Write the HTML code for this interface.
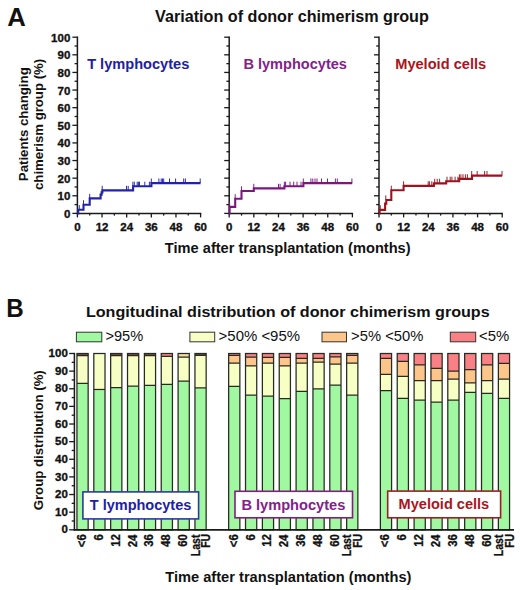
<!DOCTYPE html>
<html><head><meta charset="utf-8"><style>
html,body{margin:0;padding:0;background:#fff;width:520px;height:590px;overflow:hidden}
svg{display:block;position:absolute;left:0;top:0}
text{font-family:"Liberation Sans", sans-serif;font-weight:bold;fill:#111}
.tk{font-size:11.5px;stroke:#111;stroke-width:0.35px}
</style></head><body>
<svg width="520" height="590" viewBox="0 0 520 590">
<line x1="77.4" y1="36.50" x2="77.4" y2="214.20" stroke="#1a1a1a" stroke-width="1.5"/>
<line x1="76.7" y1="213.4" x2="201.30" y2="213.4" stroke="#1a1a1a" stroke-width="1.5"/>
<line x1="72.40" y1="213.40" x2="77.4" y2="213.40" stroke="#1a1a1a" stroke-width="1.3"/>
<line x1="74.60" y1="204.59" x2="77.4" y2="204.59" stroke="#1a1a1a" stroke-width="1.3"/>
<line x1="72.40" y1="195.78" x2="77.4" y2="195.78" stroke="#1a1a1a" stroke-width="1.3"/>
<line x1="74.60" y1="186.97" x2="77.4" y2="186.97" stroke="#1a1a1a" stroke-width="1.3"/>
<line x1="72.40" y1="178.16" x2="77.4" y2="178.16" stroke="#1a1a1a" stroke-width="1.3"/>
<line x1="74.60" y1="169.35" x2="77.4" y2="169.35" stroke="#1a1a1a" stroke-width="1.3"/>
<line x1="72.40" y1="160.54" x2="77.4" y2="160.54" stroke="#1a1a1a" stroke-width="1.3"/>
<line x1="74.60" y1="151.73" x2="77.4" y2="151.73" stroke="#1a1a1a" stroke-width="1.3"/>
<line x1="72.40" y1="142.92" x2="77.4" y2="142.92" stroke="#1a1a1a" stroke-width="1.3"/>
<line x1="74.60" y1="134.11" x2="77.4" y2="134.11" stroke="#1a1a1a" stroke-width="1.3"/>
<line x1="72.40" y1="125.30" x2="77.4" y2="125.30" stroke="#1a1a1a" stroke-width="1.3"/>
<line x1="74.60" y1="116.49" x2="77.4" y2="116.49" stroke="#1a1a1a" stroke-width="1.3"/>
<line x1="72.40" y1="107.68" x2="77.4" y2="107.68" stroke="#1a1a1a" stroke-width="1.3"/>
<line x1="74.60" y1="98.87" x2="77.4" y2="98.87" stroke="#1a1a1a" stroke-width="1.3"/>
<line x1="72.40" y1="90.06" x2="77.4" y2="90.06" stroke="#1a1a1a" stroke-width="1.3"/>
<line x1="74.60" y1="81.25" x2="77.4" y2="81.25" stroke="#1a1a1a" stroke-width="1.3"/>
<line x1="72.40" y1="72.44" x2="77.4" y2="72.44" stroke="#1a1a1a" stroke-width="1.3"/>
<line x1="74.60" y1="63.63" x2="77.4" y2="63.63" stroke="#1a1a1a" stroke-width="1.3"/>
<line x1="72.40" y1="54.82" x2="77.4" y2="54.82" stroke="#1a1a1a" stroke-width="1.3"/>
<line x1="74.60" y1="46.01" x2="77.4" y2="46.01" stroke="#1a1a1a" stroke-width="1.3"/>
<line x1="72.40" y1="37.20" x2="77.4" y2="37.20" stroke="#1a1a1a" stroke-width="1.3"/>
<line x1="77.40" y1="213.4" x2="77.40" y2="217.40" stroke="#1a1a1a" stroke-width="1.3"/>
<line x1="89.72" y1="213.4" x2="89.72" y2="215.60" stroke="#1a1a1a" stroke-width="1.3"/>
<line x1="102.04" y1="213.4" x2="102.04" y2="217.40" stroke="#1a1a1a" stroke-width="1.3"/>
<line x1="114.36" y1="213.4" x2="114.36" y2="215.60" stroke="#1a1a1a" stroke-width="1.3"/>
<line x1="126.68" y1="213.4" x2="126.68" y2="217.40" stroke="#1a1a1a" stroke-width="1.3"/>
<line x1="139.00" y1="213.4" x2="139.00" y2="215.60" stroke="#1a1a1a" stroke-width="1.3"/>
<line x1="151.32" y1="213.4" x2="151.32" y2="217.40" stroke="#1a1a1a" stroke-width="1.3"/>
<line x1="163.64" y1="213.4" x2="163.64" y2="215.60" stroke="#1a1a1a" stroke-width="1.3"/>
<line x1="175.96" y1="213.4" x2="175.96" y2="217.40" stroke="#1a1a1a" stroke-width="1.3"/>
<line x1="188.28" y1="213.4" x2="188.28" y2="215.60" stroke="#1a1a1a" stroke-width="1.3"/>
<line x1="200.60" y1="213.4" x2="200.60" y2="217.40" stroke="#1a1a1a" stroke-width="1.3"/>
<text x="77.40" y="230.7" text-anchor="middle" class="tk">0</text>
<text x="102.04" y="230.7" text-anchor="middle" class="tk">12</text>
<text x="126.68" y="230.7" text-anchor="middle" class="tk">24</text>
<text x="151.32" y="230.7" text-anchor="middle" class="tk">36</text>
<text x="175.96" y="230.7" text-anchor="middle" class="tk">48</text>
<text x="200.60" y="230.7" text-anchor="middle" class="tk">60</text>
<line x1="229.2" y1="36.50" x2="229.2" y2="214.20" stroke="#1a1a1a" stroke-width="1.5"/>
<line x1="228.5" y1="213.4" x2="353.10" y2="213.4" stroke="#1a1a1a" stroke-width="1.5"/>
<line x1="224.20" y1="213.40" x2="229.2" y2="213.40" stroke="#1a1a1a" stroke-width="1.3"/>
<line x1="226.40" y1="204.59" x2="229.2" y2="204.59" stroke="#1a1a1a" stroke-width="1.3"/>
<line x1="224.20" y1="195.78" x2="229.2" y2="195.78" stroke="#1a1a1a" stroke-width="1.3"/>
<line x1="226.40" y1="186.97" x2="229.2" y2="186.97" stroke="#1a1a1a" stroke-width="1.3"/>
<line x1="224.20" y1="178.16" x2="229.2" y2="178.16" stroke="#1a1a1a" stroke-width="1.3"/>
<line x1="226.40" y1="169.35" x2="229.2" y2="169.35" stroke="#1a1a1a" stroke-width="1.3"/>
<line x1="224.20" y1="160.54" x2="229.2" y2="160.54" stroke="#1a1a1a" stroke-width="1.3"/>
<line x1="226.40" y1="151.73" x2="229.2" y2="151.73" stroke="#1a1a1a" stroke-width="1.3"/>
<line x1="224.20" y1="142.92" x2="229.2" y2="142.92" stroke="#1a1a1a" stroke-width="1.3"/>
<line x1="226.40" y1="134.11" x2="229.2" y2="134.11" stroke="#1a1a1a" stroke-width="1.3"/>
<line x1="224.20" y1="125.30" x2="229.2" y2="125.30" stroke="#1a1a1a" stroke-width="1.3"/>
<line x1="226.40" y1="116.49" x2="229.2" y2="116.49" stroke="#1a1a1a" stroke-width="1.3"/>
<line x1="224.20" y1="107.68" x2="229.2" y2="107.68" stroke="#1a1a1a" stroke-width="1.3"/>
<line x1="226.40" y1="98.87" x2="229.2" y2="98.87" stroke="#1a1a1a" stroke-width="1.3"/>
<line x1="224.20" y1="90.06" x2="229.2" y2="90.06" stroke="#1a1a1a" stroke-width="1.3"/>
<line x1="226.40" y1="81.25" x2="229.2" y2="81.25" stroke="#1a1a1a" stroke-width="1.3"/>
<line x1="224.20" y1="72.44" x2="229.2" y2="72.44" stroke="#1a1a1a" stroke-width="1.3"/>
<line x1="226.40" y1="63.63" x2="229.2" y2="63.63" stroke="#1a1a1a" stroke-width="1.3"/>
<line x1="224.20" y1="54.82" x2="229.2" y2="54.82" stroke="#1a1a1a" stroke-width="1.3"/>
<line x1="226.40" y1="46.01" x2="229.2" y2="46.01" stroke="#1a1a1a" stroke-width="1.3"/>
<line x1="224.20" y1="37.20" x2="229.2" y2="37.20" stroke="#1a1a1a" stroke-width="1.3"/>
<line x1="229.20" y1="213.4" x2="229.20" y2="217.40" stroke="#1a1a1a" stroke-width="1.3"/>
<line x1="241.52" y1="213.4" x2="241.52" y2="215.60" stroke="#1a1a1a" stroke-width="1.3"/>
<line x1="253.84" y1="213.4" x2="253.84" y2="217.40" stroke="#1a1a1a" stroke-width="1.3"/>
<line x1="266.16" y1="213.4" x2="266.16" y2="215.60" stroke="#1a1a1a" stroke-width="1.3"/>
<line x1="278.48" y1="213.4" x2="278.48" y2="217.40" stroke="#1a1a1a" stroke-width="1.3"/>
<line x1="290.80" y1="213.4" x2="290.80" y2="215.60" stroke="#1a1a1a" stroke-width="1.3"/>
<line x1="303.12" y1="213.4" x2="303.12" y2="217.40" stroke="#1a1a1a" stroke-width="1.3"/>
<line x1="315.44" y1="213.4" x2="315.44" y2="215.60" stroke="#1a1a1a" stroke-width="1.3"/>
<line x1="327.76" y1="213.4" x2="327.76" y2="217.40" stroke="#1a1a1a" stroke-width="1.3"/>
<line x1="340.08" y1="213.4" x2="340.08" y2="215.60" stroke="#1a1a1a" stroke-width="1.3"/>
<line x1="352.40" y1="213.4" x2="352.40" y2="217.40" stroke="#1a1a1a" stroke-width="1.3"/>
<text x="229.20" y="230.7" text-anchor="middle" class="tk">0</text>
<text x="253.84" y="230.7" text-anchor="middle" class="tk">12</text>
<text x="278.48" y="230.7" text-anchor="middle" class="tk">24</text>
<text x="303.12" y="230.7" text-anchor="middle" class="tk">36</text>
<text x="327.76" y="230.7" text-anchor="middle" class="tk">48</text>
<text x="352.40" y="230.7" text-anchor="middle" class="tk">60</text>
<line x1="379.0" y1="36.50" x2="379.0" y2="214.20" stroke="#1a1a1a" stroke-width="1.5"/>
<line x1="378.3" y1="213.4" x2="502.90" y2="213.4" stroke="#1a1a1a" stroke-width="1.5"/>
<line x1="374.00" y1="213.40" x2="379.0" y2="213.40" stroke="#1a1a1a" stroke-width="1.3"/>
<line x1="376.20" y1="204.59" x2="379.0" y2="204.59" stroke="#1a1a1a" stroke-width="1.3"/>
<line x1="374.00" y1="195.78" x2="379.0" y2="195.78" stroke="#1a1a1a" stroke-width="1.3"/>
<line x1="376.20" y1="186.97" x2="379.0" y2="186.97" stroke="#1a1a1a" stroke-width="1.3"/>
<line x1="374.00" y1="178.16" x2="379.0" y2="178.16" stroke="#1a1a1a" stroke-width="1.3"/>
<line x1="376.20" y1="169.35" x2="379.0" y2="169.35" stroke="#1a1a1a" stroke-width="1.3"/>
<line x1="374.00" y1="160.54" x2="379.0" y2="160.54" stroke="#1a1a1a" stroke-width="1.3"/>
<line x1="376.20" y1="151.73" x2="379.0" y2="151.73" stroke="#1a1a1a" stroke-width="1.3"/>
<line x1="374.00" y1="142.92" x2="379.0" y2="142.92" stroke="#1a1a1a" stroke-width="1.3"/>
<line x1="376.20" y1="134.11" x2="379.0" y2="134.11" stroke="#1a1a1a" stroke-width="1.3"/>
<line x1="374.00" y1="125.30" x2="379.0" y2="125.30" stroke="#1a1a1a" stroke-width="1.3"/>
<line x1="376.20" y1="116.49" x2="379.0" y2="116.49" stroke="#1a1a1a" stroke-width="1.3"/>
<line x1="374.00" y1="107.68" x2="379.0" y2="107.68" stroke="#1a1a1a" stroke-width="1.3"/>
<line x1="376.20" y1="98.87" x2="379.0" y2="98.87" stroke="#1a1a1a" stroke-width="1.3"/>
<line x1="374.00" y1="90.06" x2="379.0" y2="90.06" stroke="#1a1a1a" stroke-width="1.3"/>
<line x1="376.20" y1="81.25" x2="379.0" y2="81.25" stroke="#1a1a1a" stroke-width="1.3"/>
<line x1="374.00" y1="72.44" x2="379.0" y2="72.44" stroke="#1a1a1a" stroke-width="1.3"/>
<line x1="376.20" y1="63.63" x2="379.0" y2="63.63" stroke="#1a1a1a" stroke-width="1.3"/>
<line x1="374.00" y1="54.82" x2="379.0" y2="54.82" stroke="#1a1a1a" stroke-width="1.3"/>
<line x1="376.20" y1="46.01" x2="379.0" y2="46.01" stroke="#1a1a1a" stroke-width="1.3"/>
<line x1="374.00" y1="37.20" x2="379.0" y2="37.20" stroke="#1a1a1a" stroke-width="1.3"/>
<line x1="379.00" y1="213.4" x2="379.00" y2="217.40" stroke="#1a1a1a" stroke-width="1.3"/>
<line x1="391.32" y1="213.4" x2="391.32" y2="215.60" stroke="#1a1a1a" stroke-width="1.3"/>
<line x1="403.64" y1="213.4" x2="403.64" y2="217.40" stroke="#1a1a1a" stroke-width="1.3"/>
<line x1="415.96" y1="213.4" x2="415.96" y2="215.60" stroke="#1a1a1a" stroke-width="1.3"/>
<line x1="428.28" y1="213.4" x2="428.28" y2="217.40" stroke="#1a1a1a" stroke-width="1.3"/>
<line x1="440.60" y1="213.4" x2="440.60" y2="215.60" stroke="#1a1a1a" stroke-width="1.3"/>
<line x1="452.92" y1="213.4" x2="452.92" y2="217.40" stroke="#1a1a1a" stroke-width="1.3"/>
<line x1="465.24" y1="213.4" x2="465.24" y2="215.60" stroke="#1a1a1a" stroke-width="1.3"/>
<line x1="477.56" y1="213.4" x2="477.56" y2="217.40" stroke="#1a1a1a" stroke-width="1.3"/>
<line x1="489.88" y1="213.4" x2="489.88" y2="215.60" stroke="#1a1a1a" stroke-width="1.3"/>
<line x1="502.20" y1="213.4" x2="502.20" y2="217.40" stroke="#1a1a1a" stroke-width="1.3"/>
<text x="379.00" y="230.7" text-anchor="middle" class="tk">0</text>
<text x="403.64" y="230.7" text-anchor="middle" class="tk">12</text>
<text x="428.28" y="230.7" text-anchor="middle" class="tk">24</text>
<text x="452.92" y="230.7" text-anchor="middle" class="tk">36</text>
<text x="477.56" y="230.7" text-anchor="middle" class="tk">48</text>
<text x="502.20" y="230.7" text-anchor="middle" class="tk">60</text>
<text x="70.3" y="217.90" text-anchor="end" class="tk">0</text>
<text x="70.3" y="200.28" text-anchor="end" class="tk">10</text>
<text x="70.3" y="182.66" text-anchor="end" class="tk">20</text>
<text x="70.3" y="165.04" text-anchor="end" class="tk">30</text>
<text x="70.3" y="147.42" text-anchor="end" class="tk">40</text>
<text x="70.3" y="129.80" text-anchor="end" class="tk">50</text>
<text x="70.3" y="112.18" text-anchor="end" class="tk">60</text>
<text x="70.3" y="94.56" text-anchor="end" class="tk">70</text>
<text x="70.3" y="76.94" text-anchor="end" class="tk">80</text>
<text x="70.3" y="59.32" text-anchor="end" class="tk">90</text>
<text x="70.3" y="41.70" text-anchor="end" class="tk">100</text>
<path d="M77.40,213.40 L78.20,213.40 L78.20,209.70 L83.50,209.70 L83.50,204.80 L89.70,204.80 L89.70,198.40 L100.60,198.40 L100.60,194.60 L101.60,194.60 L101.60,192.40 L102.40,192.40 L102.40,190.40 L133.10,190.40 L133.10,186.30 L151.40,186.30 L151.40,183.10 L200.50,183.10" fill="none" stroke="#2323a8" stroke-width="2.1"/>
<path d="M79.30,209.70v-4.6M83.50,204.80v-4.6M89.70,198.40v-4.6M102.20,190.40v-4.6M126.50,190.40v-4.6M128.20,190.40v-4.6M132.90,186.30v-4.6M134.30,186.30v-4.6M137.20,186.30v-4.6M138.40,186.30v-4.6M139.50,186.30v-4.6M144.80,186.30v-4.6M149.40,186.30v-4.6M151.30,183.10v-4.6M158.90,183.10v-4.6M161.20,183.10v-4.6M162.50,183.10v-4.6M163.70,183.10v-4.6M169.50,183.10v-4.6M175.60,183.10v-4.6M183.70,183.10v-4.6M185.40,183.10v-4.6M200.20,183.10v-4.6" fill="none" stroke="#2323a8" stroke-width="0.95"/>
<path d="M229.20,213.40 L229.60,213.40 L229.60,206.90 L235.20,206.90 L235.20,198.80 L241.50,198.80 L241.50,191.00 L253.80,191.00 L253.80,188.40 L284.40,188.40 L284.40,186.30 L303.40,186.30 L303.40,183.10 L352.20,183.10" fill="none" stroke="#7a1880" stroke-width="2.1"/>
<path d="M229.60,206.90v-4.6M235.20,198.80v-4.6M241.50,191.00v-4.6M253.80,188.40v-4.6M278.50,188.40v-4.6M280.10,188.40v-4.6M284.40,186.30v-4.6M285.60,186.30v-4.6M290.00,186.30v-4.6M293.70,186.30v-4.6M297.00,186.30v-4.6M301.00,186.30v-4.6M303.30,183.10v-4.6M310.90,183.10v-4.6M312.80,183.10v-4.6M315.00,183.10v-4.6M317.00,183.10v-4.6M321.50,183.10v-4.6M327.50,183.10v-4.6M335.40,183.10v-4.6M337.30,183.10v-4.6M351.90,183.10v-4.6" fill="none" stroke="#7a1880" stroke-width="0.95"/>
<path d="M379.00,213.40 L379.60,213.40 L379.60,209.90 L385.10,209.90 L385.10,203.60 L386.30,203.60 L386.30,200.00 L391.30,200.00 L391.30,190.30 L403.60,190.30 L403.60,185.90 L433.90,185.90 L433.90,183.40 L446.20,183.40 L446.20,181.30 L459.20,181.30 L459.20,178.90 L472.00,178.90 L472.00,175.60 L502.20,175.60" fill="none" stroke="#9a1420" stroke-width="2.1"/>
<path d="M380.30,209.90v-4.6M385.80,200.00v-4.6M391.30,190.30v-4.6M403.60,185.90v-4.6M428.20,185.90v-4.6M429.40,185.90v-4.6M431.80,185.90v-4.6M434.70,183.40v-4.6M437.20,183.40v-4.6M439.60,183.40v-4.6M447.00,181.30v-4.6M450.20,181.30v-4.6M451.90,181.30v-4.6M455.10,181.30v-4.6M457.90,181.30v-4.6M459.40,178.90v-4.6M460.90,178.90v-4.6M463.00,178.90v-4.6M465.40,178.90v-4.6M467.40,178.90v-4.6M471.70,175.60v-4.6M477.20,175.60v-4.6M484.60,175.60v-4.6M487.00,175.60v-4.6M502.00,175.60v-4.6" fill="none" stroke="#9a1420" stroke-width="0.95"/>
<rect x="76.4" y="332.2" width="25.40" height="9.6" fill="#a0f8a0" stroke="#333" stroke-width="1"/>
<rect x="189.9" y="332.2" width="24.80" height="9.6" fill="#f8ffc4" stroke="#333" stroke-width="1"/>
<rect x="322.0" y="332.2" width="24.50" height="9.6" fill="#fcc68a" stroke="#333" stroke-width="1"/>
<rect x="450.3" y="332.2" width="25.40" height="9.6" fill="#f98084" stroke="#333" stroke-width="1"/>
<rect x="76.95" y="383.29" width="11.20" height="146.51" fill="#a0f8a0"/>
<rect x="76.95" y="355.70" width="11.20" height="27.59" fill="#f8ffc4"/>
<rect x="76.95" y="353.50" width="11.20" height="2.20" fill="#7a4a38"/>
<path d="M76.95,383.29h11.20M76.95,355.70h11.20" stroke="#262a20" stroke-width="1.25"/>
<rect x="76.95" y="353.50" width="11.20" height="176.30" fill="none" stroke="#262a20" stroke-width="1.25"/>
<rect x="93.81" y="389.47" width="11.20" height="140.33" fill="#a0f8a0"/>
<rect x="93.81" y="353.50" width="11.20" height="35.97" fill="#f8ffc4"/>
<path d="M93.81,389.47h11.20" stroke="#262a20" stroke-width="1.25"/>
<rect x="93.81" y="353.50" width="11.20" height="176.30" fill="none" stroke="#262a20" stroke-width="1.25"/>
<rect x="110.66" y="387.70" width="11.20" height="142.10" fill="#a0f8a0"/>
<rect x="110.66" y="355.70" width="11.20" height="32.00" fill="#f8ffc4"/>
<rect x="110.66" y="353.50" width="11.20" height="2.20" fill="#7a4a38"/>
<path d="M110.66,387.70h11.20M110.66,355.70h11.20" stroke="#262a20" stroke-width="1.25"/>
<rect x="110.66" y="353.50" width="11.20" height="176.30" fill="none" stroke="#262a20" stroke-width="1.25"/>
<rect x="127.52" y="386.12" width="11.20" height="143.68" fill="#a0f8a0"/>
<rect x="127.52" y="355.70" width="11.20" height="30.41" fill="#f8ffc4"/>
<rect x="127.52" y="353.50" width="11.20" height="2.20" fill="#7a4a38"/>
<path d="M127.52,386.12h11.20M127.52,355.70h11.20" stroke="#262a20" stroke-width="1.25"/>
<rect x="127.52" y="353.50" width="11.20" height="176.30" fill="none" stroke="#262a20" stroke-width="1.25"/>
<rect x="144.38" y="385.41" width="11.20" height="144.39" fill="#a0f8a0"/>
<rect x="144.38" y="355.70" width="11.20" height="29.71" fill="#f8ffc4"/>
<rect x="144.38" y="353.50" width="11.20" height="2.20" fill="#7a4a38"/>
<path d="M144.38,385.41h11.20M144.38,355.70h11.20" stroke="#262a20" stroke-width="1.25"/>
<rect x="144.38" y="353.50" width="11.20" height="176.30" fill="none" stroke="#262a20" stroke-width="1.25"/>
<rect x="161.24" y="384.35" width="11.20" height="145.45" fill="#a0f8a0"/>
<rect x="161.24" y="356.32" width="11.20" height="28.03" fill="#f8ffc4"/>
<rect x="161.24" y="353.50" width="11.20" height="2.82" fill="#f98084"/>
<path d="M161.24,384.35h11.20M161.24,356.32h11.20" stroke="#262a20" stroke-width="1.25"/>
<rect x="161.24" y="353.50" width="11.20" height="176.30" fill="none" stroke="#262a20" stroke-width="1.25"/>
<rect x="178.09" y="381.00" width="11.20" height="148.80" fill="#a0f8a0"/>
<rect x="178.09" y="357.03" width="11.20" height="23.98" fill="#f8ffc4"/>
<rect x="178.09" y="353.50" width="11.20" height="3.53" fill="#f6dca0"/>
<path d="M178.09,381.00h11.20M178.09,357.03h11.20" stroke="#262a20" stroke-width="1.25"/>
<rect x="178.09" y="353.50" width="11.20" height="176.30" fill="none" stroke="#262a20" stroke-width="1.25"/>
<rect x="194.95" y="387.88" width="11.20" height="141.92" fill="#a0f8a0"/>
<rect x="194.95" y="355.44" width="11.20" height="32.44" fill="#f8ffc4"/>
<rect x="194.95" y="353.50" width="11.20" height="1.94" fill="#7a4a38"/>
<path d="M194.95,387.88h11.20M194.95,355.44h11.20" stroke="#262a20" stroke-width="1.25"/>
<rect x="194.95" y="353.50" width="11.20" height="176.30" fill="none" stroke="#262a20" stroke-width="1.25"/>
<rect x="228.66" y="386.29" width="11.20" height="143.51" fill="#a0f8a0"/>
<rect x="228.66" y="363.20" width="11.20" height="23.10" fill="#f8ffc4"/>
<rect x="228.66" y="355.44" width="11.20" height="7.76" fill="#fcc68a"/>
<rect x="228.66" y="353.50" width="11.20" height="1.94" fill="#f98084"/>
<path d="M228.66,386.29h11.20M228.66,363.20h11.20M228.66,355.44h11.20" stroke="#262a20" stroke-width="1.25"/>
<rect x="228.66" y="353.50" width="11.20" height="176.30" fill="none" stroke="#262a20" stroke-width="1.25"/>
<rect x="245.52" y="395.11" width="11.20" height="134.69" fill="#a0f8a0"/>
<rect x="245.52" y="365.84" width="11.20" height="29.27" fill="#f8ffc4"/>
<rect x="245.52" y="357.03" width="11.20" height="8.81" fill="#fcc68a"/>
<rect x="245.52" y="353.50" width="11.20" height="3.53" fill="#f98084"/>
<path d="M245.52,395.11h11.20M245.52,365.84h11.20M245.52,357.03h11.20" stroke="#262a20" stroke-width="1.25"/>
<rect x="245.52" y="353.50" width="11.20" height="176.30" fill="none" stroke="#262a20" stroke-width="1.25"/>
<rect x="262.38" y="396.16" width="11.20" height="133.64" fill="#a0f8a0"/>
<rect x="262.38" y="363.20" width="11.20" height="32.97" fill="#f8ffc4"/>
<rect x="262.38" y="357.38" width="11.20" height="5.82" fill="#fcc68a"/>
<rect x="262.38" y="353.50" width="11.20" height="3.88" fill="#f98084"/>
<path d="M262.38,396.16h11.20M262.38,363.20h11.20M262.38,357.38h11.20" stroke="#262a20" stroke-width="1.25"/>
<rect x="262.38" y="353.50" width="11.20" height="176.30" fill="none" stroke="#262a20" stroke-width="1.25"/>
<rect x="279.23" y="398.63" width="11.20" height="131.17" fill="#a0f8a0"/>
<rect x="279.23" y="365.84" width="11.20" height="32.79" fill="#f8ffc4"/>
<rect x="279.23" y="357.38" width="11.20" height="8.46" fill="#fcc68a"/>
<rect x="279.23" y="353.50" width="11.20" height="3.88" fill="#f98084"/>
<path d="M279.23,398.63h11.20M279.23,365.84h11.20M279.23,357.38h11.20" stroke="#262a20" stroke-width="1.25"/>
<rect x="279.23" y="353.50" width="11.20" height="176.30" fill="none" stroke="#262a20" stroke-width="1.25"/>
<rect x="296.09" y="391.40" width="11.20" height="138.40" fill="#a0f8a0"/>
<rect x="296.09" y="363.20" width="11.20" height="28.21" fill="#f8ffc4"/>
<rect x="296.09" y="358.44" width="11.20" height="4.76" fill="#fcc68a"/>
<rect x="296.09" y="353.50" width="11.20" height="4.94" fill="#f98084"/>
<path d="M296.09,391.40h11.20M296.09,363.20h11.20M296.09,358.44h11.20" stroke="#262a20" stroke-width="1.25"/>
<rect x="296.09" y="353.50" width="11.20" height="176.30" fill="none" stroke="#262a20" stroke-width="1.25"/>
<rect x="312.95" y="388.76" width="11.20" height="141.04" fill="#a0f8a0"/>
<rect x="312.95" y="362.14" width="11.20" height="26.62" fill="#f8ffc4"/>
<rect x="312.95" y="358.44" width="11.20" height="3.70" fill="#fcc68a"/>
<rect x="312.95" y="353.50" width="11.20" height="4.94" fill="#f98084"/>
<path d="M312.95,388.76h11.20M312.95,362.14h11.20M312.95,358.44h11.20" stroke="#262a20" stroke-width="1.25"/>
<rect x="312.95" y="353.50" width="11.20" height="176.30" fill="none" stroke="#262a20" stroke-width="1.25"/>
<rect x="329.81" y="385.06" width="11.20" height="144.74" fill="#a0f8a0"/>
<rect x="329.81" y="364.08" width="11.20" height="20.98" fill="#f8ffc4"/>
<rect x="329.81" y="356.85" width="11.20" height="7.23" fill="#fcc68a"/>
<rect x="329.81" y="353.50" width="11.20" height="3.35" fill="#f98084"/>
<path d="M329.81,385.06h11.20M329.81,364.08h11.20M329.81,356.85h11.20" stroke="#262a20" stroke-width="1.25"/>
<rect x="329.81" y="353.50" width="11.20" height="176.30" fill="none" stroke="#262a20" stroke-width="1.25"/>
<rect x="346.66" y="395.11" width="11.20" height="134.69" fill="#a0f8a0"/>
<rect x="346.66" y="363.20" width="11.20" height="31.91" fill="#f8ffc4"/>
<rect x="346.66" y="355.44" width="11.20" height="7.76" fill="#fcc68a"/>
<rect x="346.66" y="353.50" width="11.20" height="1.94" fill="#f98084"/>
<path d="M346.66,395.11h11.20M346.66,363.20h11.20M346.66,355.44h11.20" stroke="#262a20" stroke-width="1.25"/>
<rect x="346.66" y="353.50" width="11.20" height="176.30" fill="none" stroke="#262a20" stroke-width="1.25"/>
<rect x="380.38" y="390.52" width="11.20" height="139.28" fill="#a0f8a0"/>
<rect x="380.38" y="374.30" width="11.20" height="16.22" fill="#f8ffc4"/>
<rect x="380.38" y="358.44" width="11.20" height="15.87" fill="#fcc68a"/>
<rect x="380.38" y="353.50" width="11.20" height="4.94" fill="#f98084"/>
<path d="M380.38,390.52h11.20M380.38,374.30h11.20M380.38,358.44h11.20" stroke="#262a20" stroke-width="1.25"/>
<rect x="380.38" y="353.50" width="11.20" height="176.30" fill="none" stroke="#262a20" stroke-width="1.25"/>
<rect x="397.23" y="398.46" width="11.20" height="131.34" fill="#a0f8a0"/>
<rect x="397.23" y="376.42" width="11.20" height="22.04" fill="#f8ffc4"/>
<rect x="397.23" y="361.43" width="11.20" height="14.99" fill="#fcc68a"/>
<rect x="397.23" y="353.50" width="11.20" height="7.93" fill="#f98084"/>
<path d="M397.23,398.46h11.20M397.23,376.42h11.20M397.23,361.43h11.20" stroke="#262a20" stroke-width="1.25"/>
<rect x="397.23" y="353.50" width="11.20" height="176.30" fill="none" stroke="#262a20" stroke-width="1.25"/>
<rect x="414.09" y="400.22" width="11.20" height="129.58" fill="#a0f8a0"/>
<rect x="414.09" y="380.65" width="11.20" height="19.57" fill="#f8ffc4"/>
<rect x="414.09" y="364.96" width="11.20" height="15.69" fill="#fcc68a"/>
<rect x="414.09" y="353.50" width="11.20" height="11.46" fill="#f98084"/>
<path d="M414.09,400.22h11.20M414.09,380.65h11.20M414.09,364.96h11.20" stroke="#262a20" stroke-width="1.25"/>
<rect x="414.09" y="353.50" width="11.20" height="176.30" fill="none" stroke="#262a20" stroke-width="1.25"/>
<rect x="430.95" y="402.16" width="11.20" height="127.64" fill="#a0f8a0"/>
<rect x="430.95" y="380.65" width="11.20" height="21.51" fill="#f8ffc4"/>
<rect x="430.95" y="368.31" width="11.20" height="12.34" fill="#fcc68a"/>
<rect x="430.95" y="353.50" width="11.20" height="14.81" fill="#f98084"/>
<path d="M430.95,402.16h11.20M430.95,380.65h11.20M430.95,368.31h11.20" stroke="#262a20" stroke-width="1.25"/>
<rect x="430.95" y="353.50" width="11.20" height="176.30" fill="none" stroke="#262a20" stroke-width="1.25"/>
<rect x="447.80" y="400.22" width="11.20" height="129.58" fill="#a0f8a0"/>
<rect x="447.80" y="379.24" width="11.20" height="20.98" fill="#f8ffc4"/>
<rect x="447.80" y="371.13" width="11.20" height="8.11" fill="#fcc68a"/>
<rect x="447.80" y="353.50" width="11.20" height="17.63" fill="#f98084"/>
<path d="M447.80,400.22h11.20M447.80,379.24h11.20M447.80,371.13h11.20" stroke="#262a20" stroke-width="1.25"/>
<rect x="447.80" y="353.50" width="11.20" height="176.30" fill="none" stroke="#262a20" stroke-width="1.25"/>
<rect x="464.66" y="392.46" width="11.20" height="137.34" fill="#a0f8a0"/>
<rect x="464.66" y="382.77" width="11.20" height="9.70" fill="#f8ffc4"/>
<rect x="464.66" y="369.54" width="11.20" height="13.22" fill="#fcc68a"/>
<rect x="464.66" y="353.50" width="11.20" height="16.04" fill="#f98084"/>
<path d="M464.66,392.46h11.20M464.66,382.77h11.20M464.66,369.54h11.20" stroke="#262a20" stroke-width="1.25"/>
<rect x="464.66" y="353.50" width="11.20" height="176.30" fill="none" stroke="#262a20" stroke-width="1.25"/>
<rect x="481.52" y="393.34" width="11.20" height="136.46" fill="#a0f8a0"/>
<rect x="481.52" y="380.65" width="11.20" height="12.69" fill="#f8ffc4"/>
<rect x="481.52" y="364.96" width="11.20" height="15.69" fill="#fcc68a"/>
<rect x="481.52" y="353.50" width="11.20" height="11.46" fill="#f98084"/>
<path d="M481.52,393.34h11.20M481.52,380.65h11.20M481.52,364.96h11.20" stroke="#262a20" stroke-width="1.25"/>
<rect x="481.52" y="353.50" width="11.20" height="176.30" fill="none" stroke="#262a20" stroke-width="1.25"/>
<rect x="498.37" y="398.46" width="11.20" height="131.34" fill="#a0f8a0"/>
<rect x="498.37" y="379.06" width="11.20" height="19.39" fill="#f8ffc4"/>
<rect x="498.37" y="363.37" width="11.20" height="15.69" fill="#fcc68a"/>
<rect x="498.37" y="353.50" width="11.20" height="9.87" fill="#f98084"/>
<path d="M498.37,398.46h11.20M498.37,379.06h11.20M498.37,363.37h11.20" stroke="#262a20" stroke-width="1.25"/>
<rect x="498.37" y="353.50" width="11.20" height="176.30" fill="none" stroke="#262a20" stroke-width="1.25"/>
<line x1="74.4" y1="352.80" x2="74.4" y2="530.60" stroke="#1a1a1a" stroke-width="1.5"/>
<line x1="73.7" y1="529.8" x2="514" y2="529.8" stroke="#1a1a1a" stroke-width="1.8"/>
<line x1="69.20" y1="529.80" x2="74.4" y2="529.80" stroke="#1a1a1a" stroke-width="1.3"/>
<line x1="71.70" y1="520.98" x2="74.4" y2="520.98" stroke="#1a1a1a" stroke-width="1.3"/>
<line x1="69.20" y1="512.17" x2="74.4" y2="512.17" stroke="#1a1a1a" stroke-width="1.3"/>
<line x1="71.70" y1="503.35" x2="74.4" y2="503.35" stroke="#1a1a1a" stroke-width="1.3"/>
<line x1="69.20" y1="494.54" x2="74.4" y2="494.54" stroke="#1a1a1a" stroke-width="1.3"/>
<line x1="71.70" y1="485.72" x2="74.4" y2="485.72" stroke="#1a1a1a" stroke-width="1.3"/>
<line x1="69.20" y1="476.91" x2="74.4" y2="476.91" stroke="#1a1a1a" stroke-width="1.3"/>
<line x1="71.70" y1="468.09" x2="74.4" y2="468.09" stroke="#1a1a1a" stroke-width="1.3"/>
<line x1="69.20" y1="459.28" x2="74.4" y2="459.28" stroke="#1a1a1a" stroke-width="1.3"/>
<line x1="71.70" y1="450.46" x2="74.4" y2="450.46" stroke="#1a1a1a" stroke-width="1.3"/>
<line x1="69.20" y1="441.65" x2="74.4" y2="441.65" stroke="#1a1a1a" stroke-width="1.3"/>
<line x1="71.70" y1="432.83" x2="74.4" y2="432.83" stroke="#1a1a1a" stroke-width="1.3"/>
<line x1="69.20" y1="424.02" x2="74.4" y2="424.02" stroke="#1a1a1a" stroke-width="1.3"/>
<line x1="71.70" y1="415.20" x2="74.4" y2="415.20" stroke="#1a1a1a" stroke-width="1.3"/>
<line x1="69.20" y1="406.39" x2="74.4" y2="406.39" stroke="#1a1a1a" stroke-width="1.3"/>
<line x1="71.70" y1="397.57" x2="74.4" y2="397.57" stroke="#1a1a1a" stroke-width="1.3"/>
<line x1="69.20" y1="388.76" x2="74.4" y2="388.76" stroke="#1a1a1a" stroke-width="1.3"/>
<line x1="71.70" y1="379.94" x2="74.4" y2="379.94" stroke="#1a1a1a" stroke-width="1.3"/>
<line x1="69.20" y1="371.13" x2="74.4" y2="371.13" stroke="#1a1a1a" stroke-width="1.3"/>
<line x1="71.70" y1="362.31" x2="74.4" y2="362.31" stroke="#1a1a1a" stroke-width="1.3"/>
<line x1="69.20" y1="353.50" x2="74.4" y2="353.50" stroke="#1a1a1a" stroke-width="1.3"/>
<text x="67.8" y="533.40" text-anchor="end" class="tk">0</text>
<text x="67.8" y="515.77" text-anchor="end" class="tk">10</text>
<text x="67.8" y="498.14" text-anchor="end" class="tk">20</text>
<text x="67.8" y="480.51" text-anchor="end" class="tk">30</text>
<text x="67.8" y="462.88" text-anchor="end" class="tk">40</text>
<text x="67.8" y="445.25" text-anchor="end" class="tk">50</text>
<text x="67.8" y="427.62" text-anchor="end" class="tk">60</text>
<text x="67.8" y="409.99" text-anchor="end" class="tk">70</text>
<text x="67.8" y="392.36" text-anchor="end" class="tk">80</text>
<text x="67.8" y="374.73" text-anchor="end" class="tk">90</text>
<text x="67.8" y="357.10" text-anchor="end" class="tk">100</text>
<rect x="82.9" y="491.9" width="115.70" height="27.00" fill="#fff" stroke="#2b3aa0" stroke-width="1.6"/>
<rect x="235.0" y="491.3" width="117.50" height="26.50" fill="#fff" stroke="#7f2080" stroke-width="1.6"/>
<rect x="387.7" y="491.1" width="112.90" height="26.70" fill="#fff" stroke="#9a2222" stroke-width="1.6"/>
<text x="7.19" y="25.80" textLength="18.59" lengthAdjust="spacingAndGlyphs" style="font-size:25px;font-weight:bold;">A</text>
<text x="155.10" y="21.50" textLength="273.66" lengthAdjust="spacingAndGlyphs" style="font-size:16px;font-weight:bold;">Variation of donor chimerism group</text>
<text x="87.15" y="69.30" textLength="102.17" lengthAdjust="spacingAndGlyphs" style="font-size:14.5px;font-weight:bold;fill:#2020a4">T lymphocytes</text>
<text x="243.43" y="69.20" textLength="103.50" lengthAdjust="spacingAndGlyphs" style="font-size:14.5px;font-weight:bold;fill:#84208a">B lymphocytes</text>
<text x="395.22" y="68.60" textLength="90.90" lengthAdjust="spacingAndGlyphs" style="font-size:14.5px;font-weight:bold;fill:#aa1420">Myeloid cells</text>
<text transform="translate(27.80,181.19) rotate(-90)" textLength="113.90" lengthAdjust="spacingAndGlyphs" style="font-size:13.6px;font-weight:bold;">Patients changing</text>
<text transform="translate(43.40,190.00) rotate(-90)" textLength="131.16" lengthAdjust="spacingAndGlyphs" style="font-size:13.6px;font-weight:bold;">chimerism group (%)</text>
<text x="164.85" y="252.50" textLength="245.77" lengthAdjust="spacingAndGlyphs" style="font-size:14.4px;font-weight:bold;">Time after transplantation (months)</text>
<text x="6.35" y="316.90" textLength="17.47" lengthAdjust="spacingAndGlyphs" style="font-size:25px;font-weight:bold;">B</text>
<text x="85.93" y="317.00" textLength="403.75" lengthAdjust="spacingAndGlyphs" style="font-size:15.3px;font-weight:bold;">Longitudinal distribution of donor chimerism groups</text>
<text x="105.42" y="341.10" textLength="37.81" lengthAdjust="spacingAndGlyphs" style="font-size:14px;font-weight:normal;">&gt;95%</text>
<text x="218.60" y="341.10" textLength="81.43" lengthAdjust="spacingAndGlyphs" style="font-size:14px;font-weight:normal;">&gt;50% &lt;95%</text>
<text x="351.11" y="341.10" textLength="72.22" lengthAdjust="spacingAndGlyphs" style="font-size:14px;font-weight:normal;">&gt;5% &lt;50%</text>
<text x="479.00" y="341.10" textLength="30.23" lengthAdjust="spacingAndGlyphs" style="font-size:14px;font-weight:normal;">&lt;5%</text>
<text x="89.75" y="510.40" textLength="101.57" lengthAdjust="spacingAndGlyphs" style="font-size:14.1px;font-weight:bold;fill:#2020a4">T lymphocytes</text>
<text x="241.42" y="509.50" textLength="103.90" lengthAdjust="spacingAndGlyphs" style="font-size:14.1px;font-weight:bold;fill:#84208a">B lymphocytes</text>
<text x="398.63" y="509.30" textLength="90.60" lengthAdjust="spacingAndGlyphs" style="font-size:14.1px;font-weight:bold;fill:#aa1420">Myeloid cells</text>
<text transform="translate(85.95,547.19) rotate(-90)" textLength="13.00" lengthAdjust="spacingAndGlyphs" style="font-size:12px;font-weight:bold;stroke:#111;stroke-width:0.3px">&lt;6</text>
<text transform="translate(102.81,540.53) rotate(-90)" textLength="6.34" lengthAdjust="spacingAndGlyphs" style="font-size:12px;font-weight:bold;stroke:#111;stroke-width:0.3px">6</text>
<text transform="translate(119.66,546.87) rotate(-90)" textLength="12.68" lengthAdjust="spacingAndGlyphs" style="font-size:12px;font-weight:bold;stroke:#111;stroke-width:0.3px">12</text>
<text transform="translate(136.52,547.32) rotate(-90)" textLength="12.68" lengthAdjust="spacingAndGlyphs" style="font-size:12px;font-weight:bold;stroke:#111;stroke-width:0.3px">24</text>
<text transform="translate(153.38,546.87) rotate(-90)" textLength="12.68" lengthAdjust="spacingAndGlyphs" style="font-size:12px;font-weight:bold;stroke:#111;stroke-width:0.3px">36</text>
<text transform="translate(170.24,546.98) rotate(-90)" textLength="12.68" lengthAdjust="spacingAndGlyphs" style="font-size:12px;font-weight:bold;stroke:#111;stroke-width:0.3px">48</text>
<text transform="translate(187.09,546.87) rotate(-90)" textLength="12.68" lengthAdjust="spacingAndGlyphs" style="font-size:12px;font-weight:bold;stroke:#111;stroke-width:0.3px">60</text>
<text transform="translate(199.65,556.28) rotate(-90)" textLength="21.71" lengthAdjust="spacingAndGlyphs" style="font-size:12px;font-weight:bold;stroke:#111;stroke-width:0.3px">Last</text>
<text transform="translate(210.25,547.83) rotate(-90)" textLength="14.08" lengthAdjust="spacingAndGlyphs" style="font-size:12px;font-weight:bold;stroke:#111;stroke-width:0.3px">FU</text>
<text transform="translate(237.66,547.19) rotate(-90)" textLength="13.00" lengthAdjust="spacingAndGlyphs" style="font-size:12px;font-weight:bold;stroke:#111;stroke-width:0.3px">&lt;6</text>
<text transform="translate(254.52,540.53) rotate(-90)" textLength="6.34" lengthAdjust="spacingAndGlyphs" style="font-size:12px;font-weight:bold;stroke:#111;stroke-width:0.3px">6</text>
<text transform="translate(271.38,546.87) rotate(-90)" textLength="12.68" lengthAdjust="spacingAndGlyphs" style="font-size:12px;font-weight:bold;stroke:#111;stroke-width:0.3px">12</text>
<text transform="translate(288.23,547.32) rotate(-90)" textLength="12.68" lengthAdjust="spacingAndGlyphs" style="font-size:12px;font-weight:bold;stroke:#111;stroke-width:0.3px">24</text>
<text transform="translate(305.09,546.87) rotate(-90)" textLength="12.68" lengthAdjust="spacingAndGlyphs" style="font-size:12px;font-weight:bold;stroke:#111;stroke-width:0.3px">36</text>
<text transform="translate(321.95,546.98) rotate(-90)" textLength="12.68" lengthAdjust="spacingAndGlyphs" style="font-size:12px;font-weight:bold;stroke:#111;stroke-width:0.3px">48</text>
<text transform="translate(338.81,546.87) rotate(-90)" textLength="12.68" lengthAdjust="spacingAndGlyphs" style="font-size:12px;font-weight:bold;stroke:#111;stroke-width:0.3px">60</text>
<text transform="translate(351.36,556.28) rotate(-90)" textLength="21.71" lengthAdjust="spacingAndGlyphs" style="font-size:12px;font-weight:bold;stroke:#111;stroke-width:0.3px">Last</text>
<text transform="translate(361.96,547.83) rotate(-90)" textLength="14.08" lengthAdjust="spacingAndGlyphs" style="font-size:12px;font-weight:bold;stroke:#111;stroke-width:0.3px">FU</text>
<text transform="translate(389.38,547.19) rotate(-90)" textLength="13.00" lengthAdjust="spacingAndGlyphs" style="font-size:12px;font-weight:bold;stroke:#111;stroke-width:0.3px">&lt;6</text>
<text transform="translate(406.23,540.53) rotate(-90)" textLength="6.34" lengthAdjust="spacingAndGlyphs" style="font-size:12px;font-weight:bold;stroke:#111;stroke-width:0.3px">6</text>
<text transform="translate(423.09,546.87) rotate(-90)" textLength="12.68" lengthAdjust="spacingAndGlyphs" style="font-size:12px;font-weight:bold;stroke:#111;stroke-width:0.3px">12</text>
<text transform="translate(439.95,547.32) rotate(-90)" textLength="12.68" lengthAdjust="spacingAndGlyphs" style="font-size:12px;font-weight:bold;stroke:#111;stroke-width:0.3px">24</text>
<text transform="translate(456.80,546.87) rotate(-90)" textLength="12.68" lengthAdjust="spacingAndGlyphs" style="font-size:12px;font-weight:bold;stroke:#111;stroke-width:0.3px">36</text>
<text transform="translate(473.66,546.98) rotate(-90)" textLength="12.68" lengthAdjust="spacingAndGlyphs" style="font-size:12px;font-weight:bold;stroke:#111;stroke-width:0.3px">48</text>
<text transform="translate(490.52,546.87) rotate(-90)" textLength="12.68" lengthAdjust="spacingAndGlyphs" style="font-size:12px;font-weight:bold;stroke:#111;stroke-width:0.3px">60</text>
<text transform="translate(503.07,556.28) rotate(-90)" textLength="21.71" lengthAdjust="spacingAndGlyphs" style="font-size:12px;font-weight:bold;stroke:#111;stroke-width:0.3px">Last</text>
<text transform="translate(513.67,547.83) rotate(-90)" textLength="14.08" lengthAdjust="spacingAndGlyphs" style="font-size:12px;font-weight:bold;stroke:#111;stroke-width:0.3px">FU</text>
<text transform="translate(43.10,510.33) rotate(-90)" textLength="140.10" lengthAdjust="spacingAndGlyphs" style="font-size:13.7px;font-weight:bold;">Group distribution (%)</text>
<text x="165.25" y="582.20" textLength="246.18" lengthAdjust="spacingAndGlyphs" style="font-size:14.4px;font-weight:bold;">Time after transplantation (months)</text>
</svg>
</body></html>
